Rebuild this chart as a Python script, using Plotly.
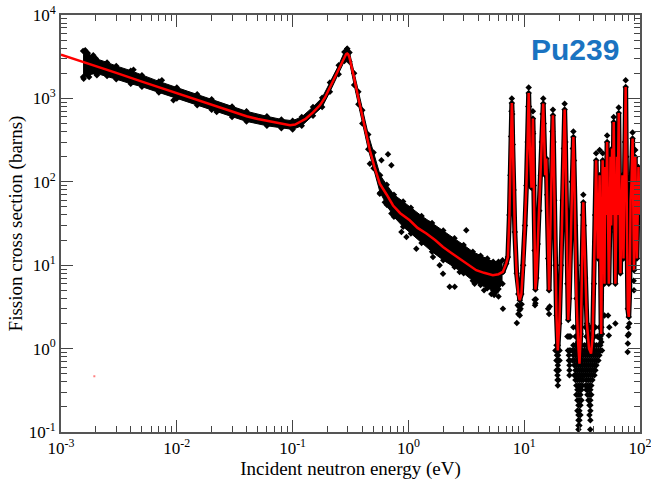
import plotly.graph_objects as go

# ---------------- data ----------------
# evaluated (fitted) cross section, red line
fit_E = [1.0e-3, 1.5e-3, 2e-3, 3e-3, 5e-3, 7e-3, 1e-2, 1.5e-2, 2e-2, 2.53e-2, 3e-2, 4e-2, 5e-2, 6e-2, 7e-2, 8e-2,
         9.5e-2, 0.105, 0.115, 0.13, 0.15, 0.172, 0.19, 0.21, 0.23, 0.25, 0.265, 0.28, 0.29, 0.296, 0.302, 0.31,
         0.32, 0.34, 0.368, 0.4, 0.43, 0.465, 0.51, 0.566, 0.65, 0.737, 0.85, 1.026, 1.2, 1.43, 1.7, 1.99, 2.35,
         2.77, 3.3, 3.85, 4.5, 5.36, 6.0, 6.54, 7.0, 7.23, 7.45, 7.6, 7.7, 7.77, 7.82, 7.88, 7.96, 8.1, 8.3, 8.6,
         8.9, 9.15, 9.45, 9.8, 10.15, 10.45, 10.7, 10.85, 10.93, 11.0, 11.15, 11.35, 11.55, 11.7, 11.82, 11.89,
         11.96, 12.1, 12.3, 12.5, 12.75, 13.1, 13.5, 13.9, 14.2, 14.45, 14.6, 14.75, 14.95, 15.2, 15.5, 15.8,
         16.1, 16.4, 16.8, 17.2, 17.5, 17.7, 17.9, 18.2, 18.6, 19.0, 19.5, 20.1, 20.8, 21.5, 22.0, 22.35, 22.7,
         23.1, 23.6, 24.0, 24.5, 25.2, 25.8, 26.3, 26.6, 26.9, 27.5, 28.3, 29.2, 30.0, 30.8, 31.6, 32.1, 32.4,
         32.8, 33.6, 34.8, 36.3, 37.8, 39.0, 40.0, 41.0, 41.8, 42.5, 43.3, 44.2, 44.8, 45.4, 46.2, 47.0, 47.6,
         48.5, 49.3, 50.1, 51.0, 52.0, 52.8, 53.8, 54.8, 55.6, 56.4, 57.4, 58.3, 59.3, 60.3, 61.3, 62.3, 63.2,
         64.0, 65.5, 66.6, 67.8, 69.0, 70.5, 72.0, 73.3, 74.3, 75.2, 76.1, 77.0, 78.5, 80.0, 81.5, 83.0, 84.5,
         86.3, 87.5, 88.7, 89.8, 91.0, 92.5, 94.0, 95.5, 97.0, 98.5, 100.0]
fit_sig = [3350, 2800, 2450, 2020, 1590, 1360, 1160, 960, 840, 750, 690, 610, 565, 540, 510, 495,
           478, 485, 515, 570, 680, 826, 1020, 1370, 1750, 2200, 2650, 3150, 3400, 3450, 3380, 3100,
           2600, 1750, 1040, 600, 380, 239, 150, 95, 70, 52, 42, 34.6, 28, 24, 20, 16.5, 14,
           12, 10, 8.7, 8.1, 7.6, 7.8, 8.3, 10.5, 12.5, 40, 120, 350, 700, 880, 650, 280, 80, 25, 8,
           4.5, 3.8, 4.5, 10, 30, 90, 300, 800, 1160, 800, 300, 120, 85, 150, 400, 573,
           380, 90, 15, 5.1, 7, 18, 45, 120, 300, 650, 870, 500, 180, 120, 190, 70,
           12, 5, 25, 120, 400, 627, 300, 60, 10, 2.5, 0.95, 2, 10, 60, 250, 734, 300,
           40, 6, 2.2, 4, 25, 100, 250, 344, 180, 30, 4, 1.2, 0.66, 1.5, 10, 40, 57,
           30, 7, 2, 1.0, 0.87, 1.4, 6, 40, 181, 60, 12, 45, 120, 20, 1.5, 20, 181,
           30, 6, 150, 40, 300, 50, 6, 25, 200, 30, 250, 40, 521, 50, 6, 30, 200,
           40, 668, 70, 8, 40, 120, 12, 60, 300, 1370, 200, 20, 3, 2.4, 5, 60, 100,
           330, 40, 8.7, 30, 198, 50, 12, 40, 150, 60, 40]

# envelope of the dense measured points below ~6.5 eV
band_E = [0.00155, 0.0017, 0.002, 0.0025, 0.003, 0.004, 0.005, 0.007, 0.01, 0.015, 0.02, 0.03, 0.04, 0.06,
          0.08, 0.1, 0.12, 0.15, 0.18, 0.21, 0.25, 0.28, 0.296, 0.31, 0.34, 0.37, 0.4, 0.45, 0.5, 0.57, 0.65,
          0.75, 0.9, 1.05, 1.3, 1.6, 2.0, 2.5, 3.0, 3.6, 4.2, 4.8, 5.4, 6.0, 6.5]
band_hi = [3700, 3400, 3000, 2700, 2450, 2150, 1900, 1600, 1350, 1120, 980, 800, 700, 610,
           560, 540, 600, 790, 1020, 1550, 2500, 3600, 3950, 3550, 2000, 1200, 720, 370, 225, 120, 92,
           70, 58, 49, 39, 32, 26, 21, 17.5, 14.5, 13, 12, 11, 11, 11.5]
band_lo = [1800, 1900, 2000, 1850, 1700, 1500, 1380, 1180, 1000, 830, 730, 600, 530, 470,
           440, 425, 470, 620, 790, 1200, 1950, 2800, 3000, 2750, 1450, 850, 500, 245, 145, 74, 53,
           38, 29, 24, 18.5, 14.5, 11.5, 9.5, 8, 6.5, 5.8, 5.3, 5.0, 5.2, 6.0]

# scattered measured points (outliers, peak tops, valley tails)
pts_E = [0.00162, 0.00157, 0.00204, 0.00423, 0.00743, 0.0221, 0.00935, 0.0017, 0.00175, 0.0019,
         0.667, 0.713, 0.585, 0.566, 0.626, 0.69, 0.713, 0.871, 0.962, 1.17, 1.63, 1.86, 1.99, 2.27,
         2.51, 2.77, 3.73, 5.74, 3.16, 1.52, 0.465, 5.2, 6.0, 4.5, 5.5,
         6.55, 8.63, 9.1, 9.15, 8.9, 9.3, 9.0, 8.8, 9.5, 12.3, 12.5, 12.6, 12.4, 16.1, 16.4, 16.6,
         45.5, 46.4, 47.0, 53.8, 54.3, 53.0, 61.3, 49.3, 78.5, 78.5, 78.2, 80.0, 79.0, 81.0, 88.7, 88.2,
         0.296, 7.82, 10.93, 11.89, 14.6, 17.7, 22.35, 26.6, 32.4, 41.8, 47.6, 52.0, 59.3, 65.5, 75.2,
         86.3, 91.0, 44.8]
pts_sig = [3780, 1726, 1893, 2213, 1648, 687, 949, 3500, 1800, 3300,
           214, 158, 181, 72, 57, 50, 41.6, 25, 21.8, 15.8, 12.5, 9.97, 7.9, 5.5,
           5.5, 8.3, 6.0, 4.8, 26.2, 31.5, 165, 4.5, 4.2, 5.0, 4.4,
           3.0, 2.03, 2.88, 2.5, 2.6, 3.0, 3.2, 3.3, 3.4, 3.86, 3.5, 3.9, 3.3, 3.0, 2.6, 3.2,
           1.3, 1.2, 1.5, 1.44, 1.8, 2.5, 2.0, 2.5, 1.15, 1.44, 0.91, 1.5, 1.8, 2.0, 5.0, 6.5,
           3950, 1000, 1350, 700, 1000, 730, 860, 400, 70, 220, 220, 360, 600, 780, 1650,
           390, 240, 240]

# dense cloud of measured points in the 19-47 eV valleys, one row per cross-section level
cloud_levels = [1.8, 1.4, 1.1, 0.95, 0.83, 0.72, 0.63, 0.55, 0.48, 0.42, 0.36, 0.32, 0.28, 0.24, 0.21,
                0.18, 0.16, 0.138, 0.12, 0.107]
cloud_rows = [
    [26.6, 28.2, 29.4, 30.6, 33.8, 35.1, 36.6, 38.0, 41.2, 44.6, 46.4],
    [23.6, 24.1, 24.6, 25.1, 27.7, 29.0, 30.3, 34.4, 35.8, 37.3, 38.8, 40.4, 42.8, 45.5],
    [19.0, 19.5, 26.6, 27.7, 28.8, 30.0, 31.2, 33.1, 34.4, 35.8, 37.3, 38.8, 40.4, 42.0, 43.7, 45.5],
    [18.6, 19.0, 19.4, 19.8, 20.2, 23.9, 24.6, 25.2, 26.1, 27.1, 28.2, 29.4, 30.6, 31.8, 33.1, 34.4, 35.8,
     37.3, 38.8, 40.4, 42.0, 43.7, 45.5, 47.0],
    [19.2, 19.6, 24.3, 26.6, 27.7, 28.8, 30.0, 31.2, 32.4, 33.8, 35.1, 36.6, 38.0, 39.6, 41.2, 42.8, 44.6],
    [18.98, 19.4, 19.75, 20.2, 24.3, 24.8, 26.1, 27.1, 28.2, 29.4, 30.6, 31.8, 33.1, 34.4, 35.8, 37.3, 38.8,
     40.4, 42.0, 43.7],
    [19.5, 24.6, 27.1, 28.2, 29.4, 30.6, 31.8, 33.1, 34.4, 35.8, 37.3, 38.8, 40.4, 42.0],
    [19.0, 19.5, 19.9, 24.6, 27.7, 28.8, 30.0, 31.2, 32.4, 33.8, 35.1, 36.6, 38.0, 39.6, 41.2],
    [19.4, 24.6, 27.1, 28.2, 29.4, 30.6, 31.8, 33.1, 34.4, 35.8, 37.3, 38.8, 40.4],
    [19.4, 19.75, 27.7, 28.8, 30.0, 31.2, 32.4, 34.4, 35.8, 37.3, 38.8],
    [19.5, 28.2, 29.4, 30.6, 31.8, 33.8, 35.1, 36.6, 38.0],
    [28.8, 30.0, 31.2, 34.4, 35.8, 37.3],
    [28.2, 29.4, 30.6, 35.1, 36.6, 38.0],
    [28.8, 30.0, 31.2, 35.8, 37.3],
    [29.4, 30.6, 36.6, 37.3],
    [28.8, 30.0, 37.3],
    [29.4, 30.6, 36.6],
    [29.4, 30.0, 37.3],
    [30.0, 29.4],
    [29.4, 37.2],
]

stray_E = [0.00194]
stray_sig = [0.466]

x_tickvals = [1e-3, 1e-2, 1e-1, 1e0, 1e1, 1e2]
x_ticktext = ["10<sup>-3</sup>", "10<sup>-2</sup>", "10<sup>-1</sup>", "10<sup>0</sup>", "10<sup>1</sup>", "10<sup>2</sup>"]
y_tickvals = [1e-1, 1e0, 1e1, 1e2, 1e3, 1e4]
y_ticktext = ["10<sup>-1</sup>", "10<sup>0</sup>", "10<sup>1</sup>", "10<sup>2</sup>", "10<sup>3</sup>", "10<sup>4</sup>"]
minor_digits = [2, 3, 4, 5, 6, 7, 8, 9]

label_text = "Pu239"
x_title = "Incident neutron energy (eV)"
y_title = "Fission cross section (barns)"

# ---------------- figure ----------------
cloud_E = [e for row in cloud_rows for e in row]
cloud_sig = [lv for lv, row in zip(cloud_levels, cloud_rows) for _ in row]

res_E = [e for e in fit_E if e >= 6.0]
res_sig = [s for e, s in zip(fit_E, fit_sig) if e >= 6.0]

x_minor = [d * t for t in x_tickvals[:-1] for d in minor_digits]
y_minor = [d * t for t in y_tickvals[:-1] for d in minor_digits]

fig = go.Figure()
mk = dict(symbol="diamond", size=5, color="black")

fig.add_trace(go.Scatter(x=band_E, y=band_lo, mode="lines+markers", line=dict(color="black", width=1),
                         marker=mk, showlegend=False))
fig.add_trace(go.Scatter(x=band_E, y=band_hi, mode="lines+markers", line=dict(color="black", width=1),
                         marker=mk, fill="tonexty", fillcolor="black", showlegend=False))
fig.add_trace(go.Scatter(x=res_E, y=res_sig, mode="lines+markers", line=dict(color="black", width=5),
                         marker=mk, showlegend=False))
fig.add_trace(go.Scatter(x=cloud_E, y=cloud_sig, mode="markers", marker=mk, showlegend=False))
fig.add_trace(go.Scatter(x=pts_E, y=pts_sig, mode="markers", marker=mk, showlegend=False))
fig.add_trace(go.Scatter(x=fit_E, y=fit_sig, mode="lines", line=dict(color="#ff0000", width=2.5),
                         showlegend=False))
fig.add_trace(go.Scatter(x=stray_E, y=stray_sig, mode="markers",
                         marker=dict(symbol="square", size=2, color="#ff8080"), showlegend=False))

axis_common = dict(
    type="log", showgrid=False, zeroline=False, automargin=False,
    showline=True, linecolor="#555555", linewidth=2, mirror="allticks",
    ticks="inside", ticklen=12, tickwidth=1, tickcolor="#444444",
    ticklabeloverflow="allow",
    tickfont=dict(family="Liberation Serif", size=17, color="black"),
)

fig.update_xaxes(range=[-3, 2], tickmode="array", tickvals=x_tickvals, ticktext=x_ticktext,
                 minor=dict(tickmode="array", tickvals=x_minor, ticks="inside", ticklen=6, tickwidth=1,
                            tickcolor="#444444", showgrid=False),
                 title=dict(text=x_title, font=dict(family="Liberation Serif", size=19, color="black"), standoff=4),
                 **axis_common)
fig.update_yaxes(range=[-1, 4], tickmode="array", tickvals=y_tickvals, ticktext=y_ticktext,
                 minor=dict(tickmode="array", tickvals=y_minor, ticks="inside", ticklen=6, tickwidth=1,
                            tickcolor="#444444", showgrid=False),
                 title=dict(text=y_title, font=dict(family="Liberation Serif", size=19, color="black"), standoff=1),
                 **axis_common)

fig.add_annotation(text="<b>" + label_text + "</b>", xref="paper", yref="paper", x=0.887, y=0.917,
                   xanchor="center", yanchor="middle", showarrow=False,
                   font=dict(family="Liberation Sans", size=30, color="#1a73c1"))

fig.update_layout(width=651, height=482, margin=dict(l=61, r=11, t=15, b=50),
                  plot_bgcolor="white", paper_bgcolor="white")

fig.write_html("out.html")
